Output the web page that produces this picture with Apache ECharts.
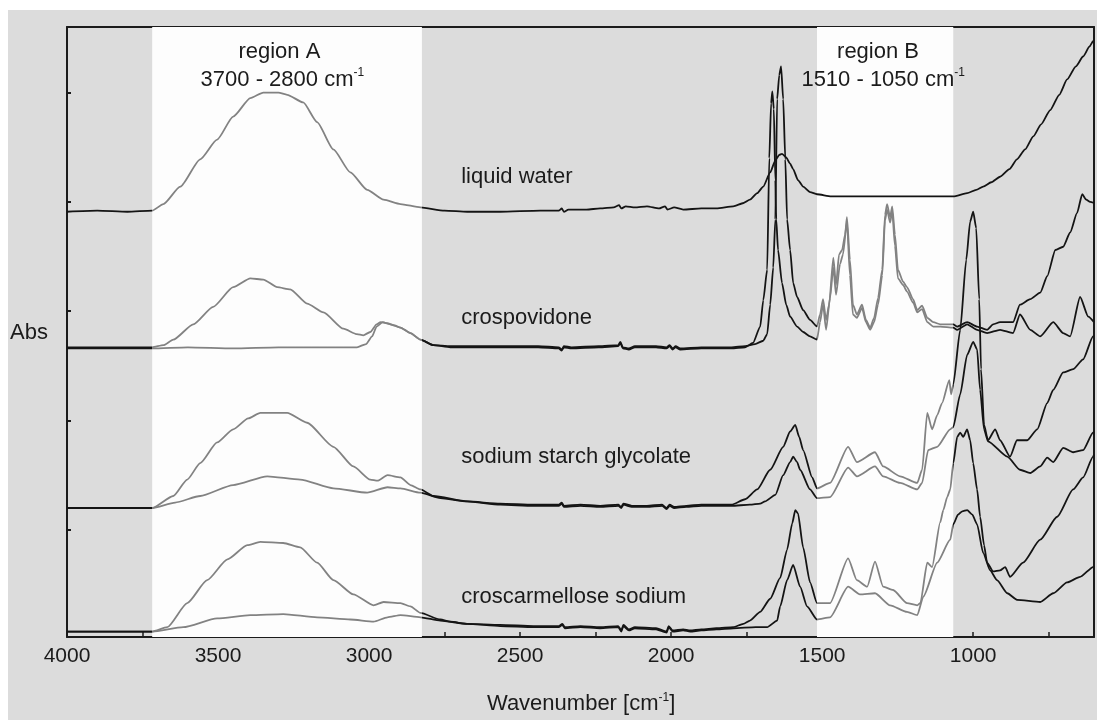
<!DOCTYPE html>
<html>
<head>
<meta charset="utf-8">
<script src="https://cdn.jsdelivr.net/npm/echarts@6/dist/echarts.min.js"></script>
<style>
  html, body { margin: 0; padding: 0; background: #ffffff; }
  #panel { position: absolute; left: 8px; top: 10px; width: 1089px; height: 710px; background: #dcdcdc; }
</style>
</head>
<body>
<div id="panel"></div>
<script>
// Axis ticks and labels (wavenumber in cm-1, absorbance offset units)
const xTickValues = [4000, 3750, 3500, 3250, 3000, 2750, 2500, 2250, 2000, 1750, 1500, 1250, 1000, 750];
const xLabelValues = [4000, 3500, 3000, 2500, 2000, 1500, 1000];
const yTickValues = [1, 2, 3, 4, 5];

// Highlighted spectral windows [high, low] in cm-1
const regionA = [3718, 2825];
const regionB = [1517, 1066];

// Spectra: [wavenumber, absorbance (stacked with offsets)]
const liquidWater = [
  [4000,3.91],[3900,3.92],[3800,3.91],[3718,3.92],[3681,3.98],[3625,4.14],[3559,4.39],[3503,4.57],[3450,4.78],[3393,4.95],[3350,5.00],[3300,5.00],[3271,4.98],[3218,4.91],[3172,4.73],[3118,4.48],[3062,4.27],[3006,4.11],[2952,4.02],[2896,3.98],[2830,3.95],[2750,3.92],[2675,3.91],[2566,3.91],[2433,3.92],[2372,3.92],[2362,3.94],[2355,3.91],[2340,3.93],[2280,3.93],[2235,3.94],[2190,3.95],[2172,3.97],[2165,3.94],[2150,3.96],[2120,3.95],[2080,3.96],[2040,3.94],[2020,3.96],[2012,3.93],[1990,3.95],[1960,3.93],[1900,3.94],[1850,3.94],[1794,3.96],[1760,3.99],[1739,4.02],[1715,4.08],[1695,4.14],[1672,4.27],[1655,4.38],[1642,4.43],[1633,4.44],[1620,4.41],[1606,4.35],[1596,4.30],[1580,4.20],[1563,4.14],[1540,4.09],[1517,4.07],[1470,4.05],[1408,4.05],[1300,4.05],[1200,4.05],[1100,4.05],[1066,4.05],[1020,4.08],[990,4.11],[967,4.14],[940,4.18],[911,4.23],[880,4.30],[855,4.39],[828,4.48],[801,4.60],[775,4.71],[745,4.84],[715,4.98],[689,5.12],[660,5.24],[636,5.33],[615,5.42],[603,5.47],[600,5.48]
];

const crospovidoneWet = [
  [4000,2.67],[3850,2.67],[3718,2.67],[3681,2.69],[3648,2.74],[3582,2.88],[3516,3.04],[3450,3.22],[3393,3.30],[3350,3.29],[3304,3.22],[3261,3.20],[3205,3.07],[3151,2.99],[3085,2.84],[3040,2.79],[3019,2.78],[2996,2.81],[2975,2.88],[2962,2.90],[2940,2.89],[2915,2.87],[2896,2.85],[2863,2.80],[2830,2.74],[2787,2.69],[2731,2.68],[2675,2.68],[2566,2.68],[2440,2.68],[2372,2.67],[2362,2.65],[2355,2.68],[2330,2.67],[2240,2.68],[2175,2.69],[2168,2.72],[2160,2.67],[2140,2.66],[2120,2.68],[2050,2.68],[2015,2.67],[2005,2.69],[1995,2.66],[1985,2.68],[1970,2.66],[1900,2.67],[1800,2.67],[1755,2.68],[1722,2.70],[1695,2.73],[1682,2.79],[1672,3.06],[1662,3.40],[1655,3.84],[1649,4.94],[1642,5.16],[1636,5.24],[1629,4.94],[1622,4.39],[1616,3.84],[1606,3.56],[1596,3.26],[1583,3.13],[1563,3.01],[1540,2.92],[1517,2.86],[1507,2.97],[1497,3.11],[1487,2.92],[1477,3.06],[1463,3.49],[1454,3.24],[1444,3.52],[1434,3.56],[1424,3.70],[1418,3.86],[1408,3.47],[1398,3.06],[1385,2.97],[1368,3.06],[1355,2.92],[1341,2.85],[1328,2.94],[1315,3.12],[1301,3.38],[1292,3.88],[1285,3.98],[1275,3.86],[1268,3.96],[1259,3.70],[1249,3.38],[1232,3.27],[1219,3.22],[1199,3.11],[1185,3.01],[1169,3.05],[1152,2.94],[1132,2.90],[1109,2.88],[1066,2.88],[1053,2.86],[1020,2.90],[987,2.86],[954,2.83],[934,2.88],[911,2.90],[868,2.90],[845,3.06],[811,3.11],[778,3.17],[755,3.32],[728,3.56],[702,3.59],[679,3.72],[656,3.90],[639,4.07],[626,4.02],[613,4.00],[600,3.99]
];

const crospovidoneDry = [
  [4000,2.66],[3850,2.66],[3718,2.66],[3600,2.67],[3450,2.66],[3300,2.67],[3150,2.67],[3040,2.67],[3010,2.70],[2990,2.77],[2975,2.86],[2955,2.90],[2930,2.88],[2896,2.85],[2863,2.80],[2830,2.74],[2787,2.69],[2731,2.67],[2675,2.67],[2566,2.67],[2440,2.67],[2372,2.66],[2362,2.64],[2355,2.67],[2330,2.66],[2240,2.67],[2175,2.68],[2168,2.71],[2160,2.66],[2140,2.65],[2120,2.67],[2050,2.67],[2015,2.66],[2005,2.68],[1995,2.65],[1985,2.67],[1970,2.65],[1900,2.66],[1800,2.66],[1755,2.67],[1729,2.71],[1705,2.86],[1695,3.10],[1682,3.38],[1675,4.40],[1669,4.90],[1665,5.01],[1660,4.85],[1655,4.20],[1652,3.84],[1646,3.56],[1633,3.26],[1619,3.06],[1606,2.95],[1583,2.86],[1563,2.81],[1540,2.77],[1517,2.74],[1507,2.90],[1497,3.06],[1487,2.83],[1474,3.12],[1463,3.40],[1454,3.15],[1441,3.43],[1431,3.52],[1418,3.82],[1408,3.33],[1398,2.97],[1385,2.94],[1368,3.03],[1355,2.90],[1341,2.83],[1328,2.90],[1315,3.06],[1301,3.33],[1292,3.83],[1285,3.93],[1275,3.81],[1268,3.91],[1259,3.60],[1249,3.30],[1232,3.24],[1219,3.18],[1199,3.08],[1185,2.99],[1169,3.02],[1152,2.90],[1132,2.86],[1109,2.86],[1066,2.85],[1053,2.83],[1020,2.88],[987,2.83],[954,2.80],[911,2.83],[868,2.80],[845,2.97],[811,2.83],[778,2.77],[735,2.90],[702,2.80],[679,2.77],[646,3.13],[619,2.95],[600,2.90]
];

const starchGlycolateWet = [
  [4000,1.20],[3850,1.20],[3718,1.20],[3648,1.31],[3602,1.46],[3559,1.61],[3503,1.80],[3450,1.92],[3400,2.02],[3360,2.07],[3271,2.07],[3205,1.98],[3118,1.76],[3052,1.58],[2996,1.46],[2972,1.45],[2939,1.50],[2896,1.48],[2863,1.41],[2830,1.37],[2787,1.31],[2675,1.26],[2566,1.24],[2456,1.23],[2372,1.23],[2362,1.25],[2355,1.22],[2300,1.23],[2235,1.22],[2175,1.23],[2165,1.21],[2158,1.24],[2130,1.22],[2080,1.22],[2030,1.23],[2015,1.20],[2005,1.23],[1990,1.21],[1950,1.22],[1900,1.23],[1800,1.23],[1755,1.28],[1715,1.37],[1672,1.55],[1629,1.76],[1606,1.90],[1589,1.96],[1576,1.85],[1563,1.73],[1533,1.48],[1517,1.38],[1474,1.43],[1414,1.76],[1385,1.62],[1325,1.71],[1298,1.58],[1242,1.49],[1185,1.43],[1169,1.55],[1152,2.07],[1136,1.92],[1119,2.05],[1103,2.16],[1079,2.37],[1073,2.24],[1066,2.33],[1043,2.83],[1023,3.47],[1010,3.82],[1000,3.91],[990,3.76],[980,3.11],[974,2.47],[964,1.96],[951,1.82],[927,1.92],[911,1.82],[878,1.67],[855,1.82],[821,1.82],[788,1.92],[755,2.16],[735,2.28],[702,2.44],[669,2.47],[636,2.56],[603,2.77],[600,2.78]
];

const starchGlycolateDry = [
  [4000,1.20],[3850,1.20],[3718,1.20],[3642,1.25],[3559,1.31],[3450,1.41],[3337,1.49],[3228,1.46],[3118,1.38],[3006,1.34],[2939,1.39],[2896,1.38],[2830,1.34],[2764,1.29],[2675,1.26],[2566,1.23],[2456,1.22],[2372,1.22],[2362,1.24],[2355,1.21],[2300,1.22],[2235,1.21],[2175,1.22],[2165,1.20],[2158,1.23],[2130,1.21],[2080,1.21],[2030,1.22],[2015,1.19],[2005,1.22],[1990,1.20],[1950,1.21],[1900,1.22],[1800,1.22],[1739,1.23],[1705,1.24],[1689,1.26],[1655,1.32],[1629,1.50],[1606,1.62],[1596,1.67],[1583,1.62],[1573,1.55],[1540,1.37],[1517,1.29],[1474,1.30],[1414,1.57],[1385,1.49],[1325,1.58],[1298,1.49],[1242,1.43],[1185,1.37],[1169,1.43],[1149,1.73],[1119,1.76],[1076,1.92],[1066,1.94],[1043,2.24],[1020,2.60],[1000,2.72],[987,2.65],[977,2.28],[964,1.92],[951,1.81],[887,1.67],[845,1.55],[811,1.52],[778,1.58],[755,1.66],[735,1.62],[702,1.75],[669,1.71],[636,1.73],[603,1.89],[600,1.90]
];

const croscarmelloseWet = [
  [4000,0.07],[3850,0.07],[3718,0.07],[3668,0.11],[3602,0.33],[3536,0.54],[3469,0.73],[3403,0.86],[3360,0.89],[3284,0.88],[3228,0.84],[3172,0.70],[3118,0.54],[3052,0.41],[2985,0.31],[2952,0.34],[2896,0.33],[2863,0.30],[2830,0.24],[2764,0.18],[2731,0.16],[2675,0.14],[2566,0.13],[2456,0.12],[2372,0.12],[2360,0.14],[2352,0.11],[2300,0.12],[2235,0.11],[2175,0.12],[2165,0.08],[2158,0.13],[2140,0.09],[2120,0.11],[2050,0.10],[2015,0.07],[2008,0.12],[1995,0.08],[1960,0.09],[1937,0.08],[1900,0.09],[1850,0.10],[1794,0.11],[1761,0.14],[1739,0.17],[1705,0.25],[1672,0.37],[1639,0.56],[1616,0.82],[1599,1.06],[1589,1.18],[1580,1.15],[1563,0.84],[1540,0.52],[1517,0.33],[1474,0.33],[1414,0.74],[1385,0.54],[1351,0.48],[1325,0.71],[1298,0.48],[1265,0.45],[1219,0.33],[1185,0.31],[1175,0.33],[1152,0.70],[1136,0.66],[1109,1.07],[1099,1.18],[1086,1.30],[1076,1.37],[1066,1.61],[1053,1.85],[1043,1.89],[1033,1.85],[1020,1.92],[1010,1.82],[1000,1.61],[987,1.37],[977,1.12],[964,0.86],[954,0.70],[934,0.62],[911,0.63],[894,0.66],[878,0.57],[835,0.70],[778,0.91],[722,1.12],[669,1.37],[636,1.48],[603,1.67],[600,1.69]
];

const croscarmelloseDry = [
  [4000,0.07],[3850,0.07],[3718,0.07],[3615,0.11],[3503,0.19],[3393,0.22],[3284,0.23],[3172,0.20],[3062,0.18],[2985,0.16],[2939,0.20],[2896,0.22],[2830,0.20],[2764,0.17],[2675,0.14],[2566,0.12],[2456,0.11],[2372,0.11],[2360,0.13],[2352,0.10],[2300,0.11],[2235,0.10],[2175,0.11],[2165,0.07],[2158,0.12],[2140,0.08],[2120,0.10],[2050,0.09],[2015,0.06],[2008,0.11],[1995,0.07],[1960,0.08],[1937,0.07],[1900,0.08],[1850,0.09],[1794,0.10],[1720,0.11],[1682,0.11],[1649,0.17],[1639,0.30],[1616,0.54],[1596,0.68],[1573,0.48],[1550,0.30],[1517,0.18],[1474,0.20],[1414,0.48],[1375,0.41],[1325,0.42],[1275,0.31],[1219,0.25],[1185,0.22],[1165,0.39],[1119,0.70],[1076,0.91],[1066,1.05],[1050,1.14],[1036,1.17],[1020,1.18],[1003,1.14],[987,1.05],[967,0.79],[944,0.63],[921,0.54],[887,0.42],[855,0.36],[778,0.34],[735,0.42],[689,0.52],[646,0.57],[603,0.66],[600,0.67]
];

const FONT = '"Liberation Sans", Arial, sans-serif';
const INK = '#1b1b1b';
const LINE_DARK = '#141414';
const LINE_GREY = '#828282';

const spectra = [
  { name: 'liquid water', data: liquidWater },
  { name: 'crospovidone wet', data: crospovidoneWet },
  { name: 'crospovidone dry', data: crospovidoneDry },
  { name: 'sodium starch glycolate wet', data: starchGlycolateWet },
  { name: 'sodium starch glycolate dry', data: starchGlycolateDry },
  { name: 'croscarmellose sodium wet', data: croscarmelloseWet },
  { name: 'croscarmellose sodium dry', data: croscarmelloseDry }
];

const chart = echarts.init(document.getElementById('panel'), null, { renderer: 'canvas' });

const hiddenAxisParts = { axisTick: { show: false }, axisLabel: { show: false }, splitLine: { show: false } };

const option = {
  animation: false,
  backgroundColor: 'transparent',
  grid: { left: 59, top: 17, right: 3, bottom: 83, show: false },
  xAxis: [
    {
      type: 'value', inverse: true, min: 600, max: 4000, position: 'bottom',
      axisLine: { show: true, onZero: false, lineStyle: { color: INK, width: 2 } },
      axisTick: { show: true, inside: true, length: 5, customValues: xTickValues, lineStyle: { color: INK, width: 1.5 } },
      axisLabel: {
        show: true, customValues: xLabelValues, margin: 9, color: INK, fontSize: 21, fontFamily: FONT,
        formatter: v => String(v)
      },
      splitLine: { show: false }
    },
    Object.assign({
      type: 'value', inverse: true, min: 600, max: 4000, position: 'top',
      axisLine: { show: true, onZero: false, lineStyle: { color: INK, width: 2 } }
    }, hiddenAxisParts)
  ],
  yAxis: [
    {
      type: 'value', min: 0.02, max: 5.6, position: 'left',
      axisLine: { show: true, onZero: false, lineStyle: { color: INK, width: 2 } },
      axisTick: { show: true, inside: true, length: 4, customValues: yTickValues, lineStyle: { color: INK, width: 2 } },
      axisLabel: { show: false },
      splitLine: { show: false }
    },
    Object.assign({
      type: 'value', min: 0.02, max: 5.6, position: 'right',
      axisLine: { show: true, onZero: false, lineStyle: { color: INK, width: 2 } }
    }, hiddenAxisParts)
  ],
  visualMap: [
    {
      type: 'piecewise', show: false, dimension: 0, seriesIndex: 1,
      pieces: [{ gte: regionA[1], lte: regionA[0], color: LINE_GREY }],
      outOfRange: { color: LINE_DARK }
    },
    {
      type: 'piecewise', show: false, dimension: 0, seriesIndex: [2, 3, 4, 5, 6, 7],
      pieces: [
        { gte: regionB[1], lte: regionB[0], color: LINE_GREY },
        { gte: regionA[1], lte: regionA[0], color: LINE_GREY }
      ],
      outOfRange: { color: LINE_DARK }
    }
  ],
  series: [
    {
      type: 'line', name: 'windows', data: [], z: 1, silent: true,
      markArea: {
        silent: true,
        itemStyle: { color: '#fdfdfd', opacity: 1 },
        data: [
          [{ xAxis: regionA[0] }, { xAxis: regionA[1] }],
          [{ xAxis: regionB[0] }, { xAxis: regionB[1] }]
        ]
      }
    }
  ].concat(spectra.map(s => ({
    type: 'line', name: s.name, data: s.data, z: 3,
    showSymbol: false, smooth: 0.2, smoothMonotone: 'x', silent: true,
    lineStyle: { width: 1.8 }
  })))
};

chart.setOption(option);

// Annotation text, anchored in data coordinates
const sup = { fontSize: 12, fontFamily: FONT, color: INK, verticalAlign: 'top', lineHeight: 20 };
const base = { fontSize: 22, fontFamily: FONT, color: INK, lineHeight: 25 };
const notes = [
  { text: 'region A', at: [3297, 5.375], align: 'center' },
  { text: '{b|3700 - 2800 cm}{s|-1}', at: [3287, 5.12], align: 'center' },
  { text: 'region B', at: [1315, 5.375], align: 'center' },
  { text: '{b|1510 - 1050 cm}{s|-1}', at: [1298, 5.12], align: 'center' },
  { text: 'liquid water', at: [2695, 4.23], align: 'left' },
  { text: 'crospovidone', at: [2695, 2.94], align: 'left' },
  { text: 'sodium starch glycolate', at: [2695, 1.67], align: 'left' },
  { text: 'croscarmellose sodium', at: [2695, 0.39], align: 'left' }
];

const graphics = notes.map(n => {
  const p = chart.convertToPixel({ gridIndex: 0 }, n.at);
  return {
    type: 'text', x: p[0], y: p[1], z: 10, silent: true,
    style: {
      text: n.text, align: n.align, verticalAlign: 'middle',
      fontSize: 22, fontFamily: FONT, fill: INK,
      rich: { b: base, s: sup }
    }
  };
});

const absY = chart.convertToPixel({ yAxisIndex: 0 }, 2.80);
graphics.push({
  type: 'text', x: 2, y: absY, z: 10, silent: true,
  style: { text: 'Abs', align: 'left', verticalAlign: 'middle', fontSize: 22, fontFamily: FONT, fill: INK }
});

const nameX = chart.convertToPixel({ xAxisIndex: 0 }, 2298);
graphics.push({
  type: 'text', x: nameX, y: 694, z: 10, silent: true,
  style: {
    text: '{b|Wavenumber [cm}{s|-1}{b|]}', align: 'center', verticalAlign: 'middle',
    fontSize: 22, fontFamily: FONT, fill: INK,
    rich: { b: base, s: sup }
  }
});

chart.setOption({ graphic: graphics });
</script>
</body>
</html>
